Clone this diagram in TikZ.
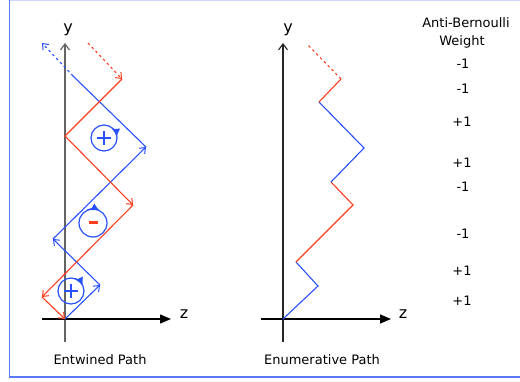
\documentclass[tikz,border=0pt]{standalone}
\usepackage{fontspec}
\setmainfont{DejaVu Sans}
\usetikzlibrary{arrows.meta}
\definecolor{pblue}{RGB}{40,80,255}
\definecolor{pred}{RGB}{255,60,30}
\definecolor{framedark}{RGB}{90,120,250}
\definecolor{framelight}{RGB}{205,215,255}
\definecolor{axgray}{RGB}{100,100,100}
\tikzset{
  seg/.style={line width=1.1pt},
  bseg/.style={seg, pblue},
  rseg/.style={seg, pred},
  barb/.style={-{Straight Barb[length=5pt,width=8pt,line width=1pt]}},
  dashseg/.style={dash pattern=on 2.5pt off 3pt},
  zaxis/.style={line width=1.3pt, black, -{Triangle[length=11pt,width=9pt]}},
  lab/.style={font=\fontsize{13}{15}\selectfont, inner sep=0pt},
  axlab/.style={font=\fontsize{16}{18}\selectfont, inner sep=0pt},
  wt/.style={font=\fontsize{13}{15}\selectfont, inner sep=0pt},
  rotcirc/.style={pblue, line width=1.2pt},
  rottip/.style={pblue, line width=1.2pt, -{Latex[length=8pt,width=8pt]}},
}
\begin{document}
\begin{tikzpicture}[x=1pt,y=-1pt]
\useasboundingbox (0,0) rectangle (520,382);
% frame
\draw[framelight, line width=1.5pt] (9,0.75) -- (520,0.75);
\draw[framedark, line width=1.5pt] (9.5,0) -- (9.5,377) -- (520,377);

% ---------- Entwined path ----------
\coordinate (O1) at (65,319);
\coordinate (Y1b) at (65,342);
\coordinate (Y1t) at (65,43);
\coordinate (Z1l) at (42,319);
\coordinate (Z1r) at (171,319);
\draw[axgray, line width=2pt, -{Straight Barb[length=6pt,width=9pt,line width=1.2pt]}] (Y1b) -- (Y1t);
\draw[zaxis] (Z1l) -- (Z1r);
\node[axlab] (y1) at (68,30) {y};
\node[axlab] (z1) at (184,314) {z};

% blue path
\coordinate (B0) at (65,319);
\coordinate (B1) at (100,285);
\coordinate (B2) at (53,239);
\coordinate (B3) at (146,147);
\coordinate (B4) at (73,76);
\coordinate (B5) at (42,43);
\draw[bseg, barb] (B0) -- (B1);
\draw[bseg, barb] (B1) -- (B2);
\draw[bseg, barb] (B2) -- (B3);
\draw[bseg] (B3) -- (B4);
\draw[bseg, dashseg, barb] (B4) -- (B5);

% red path
\coordinate (R0) at (88,43);
\coordinate (R1) at (122,79);
\coordinate (R2) at (65,136);
\coordinate (R3) at (133,205);
\coordinate (R4) at (42,297);
\coordinate (R5) at (65,319);
\draw[rseg, dashseg, barb] (R0) -- (R1);
\draw[rseg] (R1) -- (R2);
\draw[rseg, barb] (R2) -- (R3);
\draw[rseg, barb] (R3) -- (R4);
\draw[rseg, barb] (R4) -- (R5);

% rotation circles
\coordinate (C1) at (104,138);
\coordinate (C2) at (93,223);
\coordinate (C3) at (71,291);
\draw[rotcirc] (C1) circle (13);
\draw[rottip] (C1) ++(-50:13) arc (-50:-5:13);
\draw[pblue, line width=2pt] ([xshift=-7pt]C1) -- ([xshift=7pt]C1) ([yshift=-7pt]C1) -- ([yshift=7pt]C1);
\draw[rotcirc] (C2) circle (14);
\draw[rottip] (C2) ++(-115:14) arc (-115:-62:14);
\draw[pred, line width=3pt] ([xshift=-4.5pt]C2) -- ([xshift=4.5pt]C2);
\draw[rotcirc] (C3) circle (13);
\draw[rottip] (C3) ++(-75:13) arc (-75:-25:13);
\draw[pblue, line width=2pt] ([xshift=-7pt]C3) -- ([xshift=7pt]C3) ([yshift=-7pt]C3) -- ([yshift=7pt]C3);

\node[lab] (lab1) at (100,360) {Entwined Path};

% ---------- Enumerative path ----------
\coordinate (Y2b) at (283,342);
\coordinate (Y2t) at (283,43);
\coordinate (Z2l) at (261,319);
\coordinate (Z2r) at (391,319);
\draw[black!85, line width=1.2pt, -{Straight Barb[length=6pt,width=9pt,line width=1.1pt]}] (Y2b) -- (Y2t);
\draw[zaxis] (Z2l) -- (Z2r);
\node[axlab] (y2) at (288,30) {y};
\node[axlab] (z2) at (403,314) {z};

\coordinate (E0) at (283,319);
\coordinate (E1) at (318,286);
\coordinate (E2) at (296,262);
\coordinate (E3) at (353,205);
\coordinate (E4) at (331,182);
\coordinate (E5) at (364,148);
\coordinate (E6) at (319,102);
\coordinate (E7) at (341,79);
\coordinate (E8) at (308,45);
\draw[bseg] (E0) -- (E1) -- (E2);
\draw[rseg] (E2) -- (E3) -- (E4);
\draw[bseg] (E4) -- (E5) -- (E6);
\draw[rseg] (E6) -- (E7);
\draw[rseg, dashseg] (E7) -- (E8);

\node[lab] (lab2) at (322,360) {Enumerative Path};

% ---------- weights ----------
\node[lab] (wt1) at (466,23) {Anti-Bernoulli};
\node[lab] (wt2) at (462,42) {Weight};
\node[wt] (w1) at (463,64) {-1};
\node[wt] (w2) at (463,89) {-1};
\node[wt] (w3) at (462,122) {+1};
\node[wt] (w4) at (462,163) {+1};
\node[wt] (w5) at (463,187) {-1};
\node[wt] (w6) at (463,234) {-1};
\node[wt] (w7) at (462,271) {+1};
\node[wt] (w8) at (462,301) {+1};
\end{tikzpicture}
\end{document}
